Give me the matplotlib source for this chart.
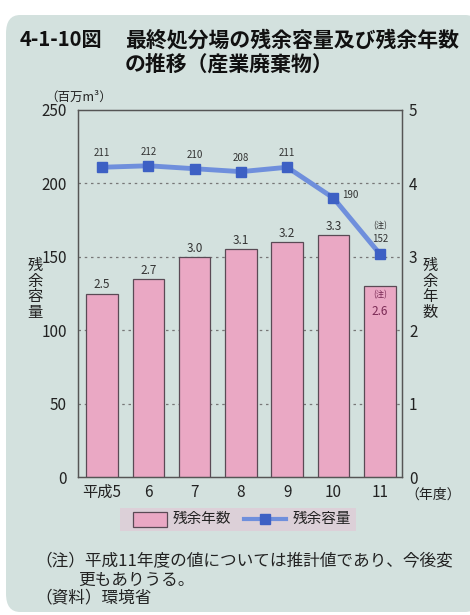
import matplotlib
matplotlib.use("Agg")
import matplotlib.pyplot as plt
from matplotlib.patches import FancyBboxPatch, Rectangle
from matplotlib.lines import Line2D

plt.rcParams['font.family'] = ['Noto Sans CJK JP', 'DejaVu Sans']

years = ["平成5", "6", "7", "8", "9", "10", "11"]
capacity = [211, 212, 210, 208, 211, 190, 152]          # 残余容量 (百万m3)
remaining_years = [2.5, 2.7, 3.0, 3.1, 3.2, 3.3, 2.6]   # 残余年数
left_ticks = [0, 50, 100, 150, 200, 250]
right_ticks = [0, 1, 2, 3, 4, 5]

W, H = 470, 615
fig = plt.figure(figsize=(W/100, H/100), dpi=100)
fig.patch.set_facecolor('white')
bg = '#d3e1de'
card = FancyBboxPatch((6/W, 3/H), 1 - 6/W + 0.02, 1 - 15/H - 3/H,
                      boxstyle="round,pad=0,rounding_size=0.03",
                      transform=fig.transFigure, facecolor=bg, edgecolor='none', zorder=-10)
fig.patches.append(card)

def fx(px): return px / W
def fy(py): return 1 - py / H

ax_l, ax_r, ax_t, ax_b = 78, 402, 110, 477
ax = fig.add_axes([fx(ax_l), fy(ax_b), fx(ax_r - ax_l), (ax_b - ax_t) / H])
ax2 = ax.twinx()
ax.set_zorder(2)
ax2.set_zorder(1)
ax.patch.set_visible(False)
ax2.patch.set_visible(False)

x = list(range(len(years)))
# bars on the right axis (years)
ax2.bar(x, remaining_years, width=0.68, color='#eaa8c4', edgecolor='#5a4a55', linewidth=0.9, zorder=3)
ax2.set_ylim(0, 5)
ax2.set_yticks(right_ticks)
for yv in [1, 2, 3, 4]:
    ax2.axhline(yv, color='#777777', linestyle=(0, (2, 3)), linewidth=0.9, zorder=1)

for i, v in enumerate(remaining_years):
    if i == len(years) - 1:
        ax2.text(i, v - 0.06, "(注)", ha='center', va='top', fontsize=6, color='#7a2a55', zorder=5)
        ax2.text(i, v - 0.26, f"{v:.1f}", ha='center', va='top', fontsize=8.5, color='#7a2a55', zorder=5)
    else:
        ax2.text(i, v + 0.03, f"{v:.1f}", ha='center', va='bottom', fontsize=8.5, color='#333333', zorder=5)

# line on the left axis (capacity)
ax.plot(x, capacity, color='#6f8fdc', linewidth=3.5, zorder=4, solid_joinstyle='round')
ax.plot(x, capacity, linestyle='none', marker='s', markersize=7.5, color='#3d60c4', zorder=5)
for i, v in enumerate(capacity):
    if i == 5:
        ax.text(i + 0.18, v + 2, str(v), ha='left', va='center', fontsize=7, color='#333333')
    elif i == 6:
        ax.text(i, v + 7, str(v), ha='center', va='bottom', fontsize=7, color='#333333')
        ax.text(i, v + 16, "(注)", ha='center', va='bottom', fontsize=6, color='#333333')
    else:
        ax.text(i, v + 6, str(v), ha='center', va='bottom', fontsize=7, color='#333333')

ax.set_ylim(0, 250)
ax.set_yticks(left_ticks)
ax.set_xlim(-0.52, 6.48)
ax.set_xticks(x)
ax.set_xticklabels(years)

for a in (ax, ax2):
    for s in a.spines.values():
        s.set_color('#555555')
        s.set_linewidth(0.9)
    a.tick_params(length=0, labelsize=11, colors='#222222', pad=5)
ax.tick_params(axis='y', pad=8)
ax2.tick_params(axis='y', pad=5)

# axis labels
fig.text(fx(45), fy(97), "（百万m³）", fontsize=9, ha='left', va='center', color='#222222')
fig.text(fx(405), fy(495), "（年度）", fontsize=10, ha='left', va='center', color='#222222')
for k, ch in enumerate("残余容量"):
    fig.text(fx(35), fy(265 + k * 16), ch, fontsize=11, ha='center', va='center', color='#222222')
for k, ch in enumerate("残余年数"):
    fig.text(fx(430), fy(265 + k * 16), ch, fontsize=11, ha='center', va='center', color='#222222')

# title
fig.text(fx(20), fy(40), "4-1-10図", fontsize=14.5, fontweight='bold', ha='left', va='center', color='#111111')
fig.text(fx(125), fy(40), "最終処分場の残余容量及び残余年数", fontsize=15, fontweight='bold', ha='left', va='center', color='#111111')
fig.text(fx(125), fy(64), "の推移（産業廃棄物）", fontsize=15, fontweight='bold', ha='left', va='center', color='#111111')

# legend
fig.patches.append(Rectangle((fx(120), fy(531)), fx(236), 23/H, transform=fig.transFigure,
                             facecolor='#dcd0d8', edgecolor='none', zorder=5))
fig.patches.append(Rectangle((fx(133), fy(527)), fx(34), 15/H, transform=fig.transFigure,
                             facecolor='#eaa8c4', edgecolor='#5a4a55', linewidth=0.9, zorder=6))
fig.text(fx(173), fy(519), "残余年数", fontsize=10.5, ha='left', va='center', color='#222222', zorder=10)
fig.lines.append(Line2D([fx(244), fx(286)], [fy(519), fy(519)], transform=fig.transFigure,
                        color='#6f8fdc', linewidth=3, zorder=6))
fig.lines.append(Line2D([fx(265)], [fy(519)], transform=fig.transFigure, linestyle='none',
                        marker='s', markersize=7, color='#3d60c4', zorder=7))
fig.text(fx(293), fy(519), "残余容量", fontsize=10.5, ha='left', va='center', color='#222222', zorder=10)

# notes
fig.text(fx(35), fy(562), "（注）平成11年度の値については推計値であり、今後変", fontsize=12, ha='left', va='center', color='#222222')
fig.text(fx(78), fy(580), "更もありうる。", fontsize=12, ha='left', va='center', color='#222222')
fig.text(fx(35), fy(598), "（資料）環境省", fontsize=12, ha='left', va='center', color='#222222')

fig.savefig("out.png", dpi=100, facecolor=fig.get_facecolor())
